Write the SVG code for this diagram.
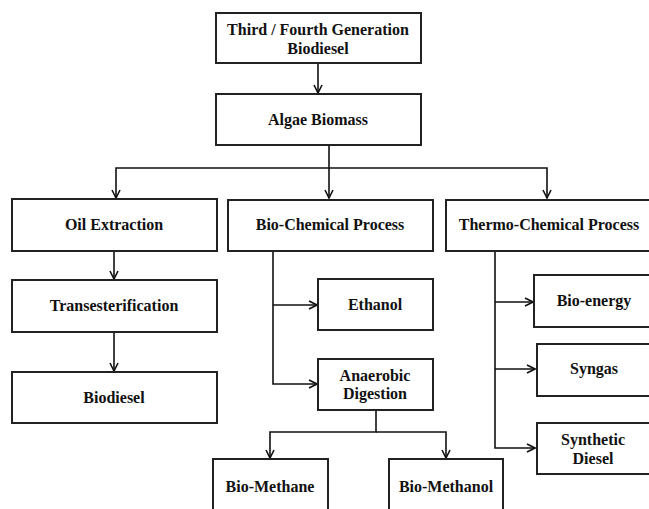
<svg xmlns="http://www.w3.org/2000/svg" width="649" height="509" viewBox="0 0 649 509">
<style>
rect{fill:#fff;stroke:#222;stroke-width:2}
text{font-family:'Liberation Serif','Times New Roman',serif;font-weight:bold;font-size:16px;fill:#111;text-anchor:middle}
.c path{fill:none;stroke:#111;stroke-width:1.6}
</style>
<defs>
<marker id="a" viewBox="0 0 10 10" refX="9" refY="5" markerWidth="10" markerHeight="10" markerUnits="userSpaceOnUse" orient="auto">
<path d="M1,1 L9,5 L1,9" fill="none" stroke="#111" stroke-width="1.6"/>
</marker>
</defs>
<g class="c">
<path d="M318,63 V93" marker-end="url(#a)"/>
<path d="M329,145 V168 H116 V198" marker-end="url(#a)"/>
<path d="M329,168 V198" marker-end="url(#a)"/>
<path d="M329,168 H547 V198" marker-end="url(#a)"/>
<path d="M114,251 V279" marker-end="url(#a)"/>
<path d="M114,332 V371" marker-end="url(#a)"/>
<path d="M273,251 V384 H317" marker-end="url(#a)"/>
<path d="M273,305 H317" marker-end="url(#a)"/>
<path d="M376,410 V432 H270 V458" marker-end="url(#a)"/>
<path d="M376,432 H446 V458" marker-end="url(#a)"/>
<path d="M495,251 V448 H535" marker-end="url(#a)"/>
<path d="M495,302 H533" marker-end="url(#a)"/>
<path d="M495,369 H535" marker-end="url(#a)"/>
</g>
<g id="n1"><rect x="216" y="13" width="205" height="50"/><text x="318" y="35">Third / Fourth Generation</text><text x="318" y="54">Biodiesel</text></g>
<g id="n2"><rect x="216" y="94" width="205" height="51"/><text x="318" y="125">Algae Biomass</text></g>
<g id="n3"><rect x="12" y="199" width="205" height="52"/><text x="114" y="230">Oil Extraction</text></g>
<g id="n4"><rect x="228" y="200" width="205" height="51"/><text x="330" y="230">Bio-Chemical Process</text></g>
<g id="n5"><rect x="446" y="200" width="210" height="51"/><text x="549" y="230">Thermo-Chemical Process</text></g>
<g id="n6"><rect x="12" y="280" width="205" height="52"/><text x="114" y="311">Transesterification</text></g>
<g id="n7"><rect x="12" y="372" width="205" height="51"/><text x="114" y="403">Biodiesel</text></g>
<g id="n8"><rect x="318" y="279" width="115" height="51"/><text x="375" y="310">Ethanol</text></g>
<g id="n9"><rect x="318" y="359" width="115" height="51"/><text x="375" y="381">Anaerobic</text><text x="375" y="399">Digestion</text></g>
<g id="n10"><rect x="534" y="275" width="120" height="52"/><text x="594" y="306">Bio-energy</text></g>
<g id="n11"><rect x="537" y="344" width="117" height="52"/><text x="594" y="374">Syngas</text></g>
<g id="n12"><rect x="537" y="423" width="117" height="51"/><text x="593" y="445">Synthetic</text><text x="593" y="464">Diesel</text></g>
<g id="n13"><rect x="213" y="459" width="115" height="55"/><text x="270" y="492">Bio-Methane</text></g>
<g id="n14"><rect x="389" y="459" width="114" height="55"/><text x="446" y="492">Bio-Methanol</text></g>
</svg>
